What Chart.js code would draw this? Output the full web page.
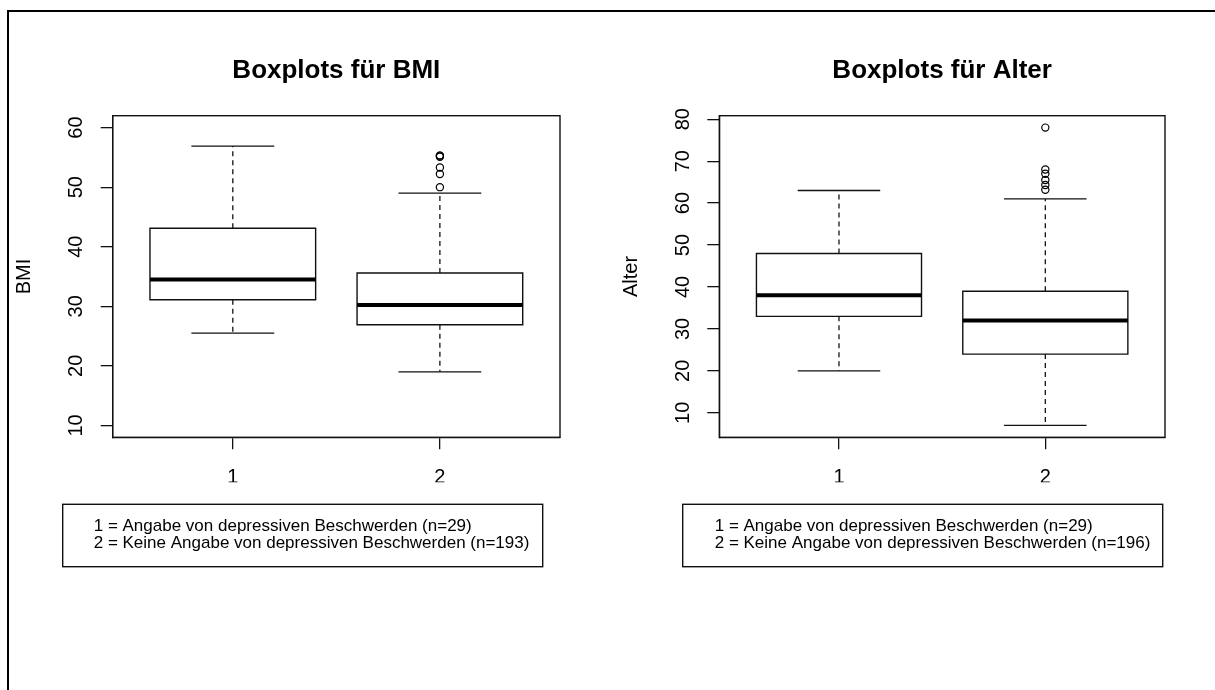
<!DOCTYPE html>
<html><head><meta charset="utf-8">
<script src="https://cdn.jsdelivr.net/npm/chart.js@4"></script>
<style>
html,body{margin:0;padding:0;background:#fff;width:1215px;height:690px;overflow:hidden;position:relative}
#frame{position:absolute;left:7px;top:10px;width:1300px;height:800px;border-left:2px solid #000;border-top:2px solid #000}
#c1{position:absolute;left:0;top:0}
#c2{position:absolute;left:607px;top:0}
</style></head><body>
<div id="frame"></div>
<canvas id="c1" width="607" height="690"></canvas>
<canvas id="c2" width="608" height="690"></canvas>
<script>
// ---- data ----
const groups = [1, 2];
const groupLabels = ["1", "2"];

const bmiTitle = "Boxplots für BMI";
const bmiAxisTitle = "BMI";
const bmiTicks = [10, 20, 30, 40, 50, 60];
const bmiMin = [25.5, 19.0];
const bmiQ1 = [31.1, 26.9];
const bmiMedian = [34.5, 30.2];
const bmiQ3 = [43.1, 35.6];
const bmiMax = [56.9, 49.0];
const bmiOutliers = [[], [55.3, 55.3, 55.1, 53.3, 52.2, 50.0]];
const bmiLegend = [
  "1 = Angabe von depressiven Beschwerden (n=29)",
  "2 = Keine Angabe von depressiven Beschwerden (n=193)"
];

const alterTitle = "Boxplots für Alter";
const alterAxisTitle = "Alter";
const alterTicks = [10, 20, 30, 40, 50, 60, 70, 80];
const alterMin = [20, 7];
const alterQ1 = [33, 24];
const alterMedian = [38, 32];
const alterQ3 = [48, 39];
const alterMax = [63, 61];
const alterOutliers = [[], [78, 68, 67, 65.5, 64.3, 63.2]];
const alterLegend = [
  "1 = Angabe von depressiven Beschwerden (n=29)",
  "2 = Keine Angabe von depressiven Beschwerden (n=196)"
];

// ---- styling / helpers ----
const FONT = "'Liberation Sans', Arial, sans-serif";
const LINE = '#111';

function boxDatasets(mins, q1s, meds, q3s, maxs, outs) {
  const HW = 0.4, CW = 0.2;
  const box = [], med = [], whisk = [], caps = [], pts = [];
  groups.forEach((g, i) => {
    box.push({x:g-HW,y:q1s[i]},{x:g+HW,y:q1s[i]},{x:g+HW,y:q3s[i]},{x:g-HW,y:q3s[i]},{x:g-HW,y:q1s[i]},{x:g+HW,y:q1s[i]},{x:g,y:null});
    med.push({x:g-HW,y:meds[i]},{x:g+HW,y:meds[i]},{x:g,y:null});
    whisk.push({x:g,y:q3s[i]},{x:g,y:maxs[i]},{x:g,y:null},{x:g,y:q1s[i]},{x:g,y:mins[i]},{x:g,y:null});
    caps.push({x:g-CW,y:maxs[i]},{x:g+CW,y:maxs[i]},{x:g,y:null},{x:g-CW,y:mins[i]},{x:g+CW,y:mins[i]},{x:g,y:null});
    outs[i].forEach(v => pts.push({x:g,y:v}));
  });
  const base = {pointRadius:0, tension:0, spanGaps:false, fill:false, borderColor:LINE};
  return [
    Object.assign({label:'median', data:med, borderWidth:4, borderColor:'#000', borderCapStyle:'butt'}, {pointRadius:0,tension:0,spanGaps:false,fill:false}),
    Object.assign({label:'box', data:box, borderWidth:1.4}, base),
    Object.assign({label:'whisker', data:whisk, borderWidth:1.3, borderDash:[5,4]}, base),
    Object.assign({label:'caps', data:caps, borderWidth:1.3}, base),
    {label:'outliers', data:pts, showLine:false, pointRadius:3.6, pointHoverRadius:3.6, pointStyle:'circle',
     pointBackgroundColor:'rgba(255,255,255,0)', pointBorderColor:'#000', pointBorderWidth:1.2}
  ];
}

const framePlugin = {
  id: 'rframe',
  afterDraw(chart, args, opts) {
    const {ctx, chartArea: a} = chart;
    ctx.save();
    ctx.strokeStyle = LINE; ctx.lineWidth = 1.4;
    ctx.strokeRect(a.left, a.top, a.right - a.left, a.bottom - a.top);
    const L = opts.box;
    ctx.strokeRect(L.x, L.y, L.w, L.h);
    ctx.fillStyle = '#000';
    ctx.font = '17px ' + FONT;
    ctx.textBaseline = 'middle';
    ctx.textAlign = 'left';
    opts.lines.forEach((t, i) => ctx.fillText(t, L.x + L.tx, L.y + L.ty + i * L.gap));
    ctx.restore();
  }
};

function makeChart(id, o) {
  const yPad = (o.yr[1] - o.yr[0]) * 0.04;
  const tickFont = {family: FONT, size: 20};
  const gridOpt = {drawOnChartArea:false, drawTicks:true, tickLength:12, color:LINE, lineWidth:1.3};
  return new Chart(document.getElementById(id), {
    type: 'line',
    data: {datasets: boxDatasets(o.mins, o.q1, o.med, o.q3, o.maxs, o.outs)},
    options: {
      responsive:false, animation:false, devicePixelRatio:1,
      events: [],
      layout: {padding: {left:0, right:o.padRight, top:0, bottom:690 - 437.3 - 45}},
      plugins: {
        legend:{display:false}, tooltip:{enabled:false},
        title:{display:true, fullSize:false, text:o.title, color:'#000', font:{family:FONT, size:26, weight:'bold'}, padding:{top:55, bottom:29.5}},
        rframe: {box:o.legendBox, lines:o.legend}
      },
      scales: {
        x: {type:'linear', min:0.42, max:2.58,
            afterBuildTicks: s => { s.ticks = groups.map(v => ({value:v})); },
            afterFit: s => { s.height = 45; },
            ticks: {callback: v => groupLabels[groups.indexOf(v)], font:tickFont, color:'#000', padding:16, maxRotation:0, autoSkip:false},
            grid: gridOpt, border:{display:true, color:LINE, width:1.3}},
        y: {type:'linear', min:o.yr[0] - yPad, max:o.yr[1] + yPad,
            afterBuildTicks: s => { s.ticks = o.ticks.map(v => ({value:v})); },
            afterFit: s => { s.width = o.axisW; },
            ticks: {callback: v => String(v), font:tickFont, color:'#000', padding:12.6, minRotation:90, maxRotation:90, crossAlign:'center', autoSkip:false},
            grid: gridOpt, border:{display:true, color:LINE, width:1.3},
            title: {display:true, text:o.yTitle, color:'#000', font:{family:FONT, size:20}, padding:{top:12, bottom:0}}}
      }
    },
    plugins: [framePlugin]
  });
}

makeChart('c1', {
  title: bmiTitle, yTitle: bmiAxisTitle, ticks: bmiTicks, yr: [10, 60],
  mins: bmiMin, q1: bmiQ1, med: bmiMedian, q3: bmiQ3, maxs: bmiMax, outs: bmiOutliers,
  legend: bmiLegend, axisW: 112.7, padRight: 47,
  legendBox: {x:62.7, y:504.3, w:480, h:62.4, tx:31, ty:22, gap:17}
});
makeChart('c2', {
  title: alterTitle, yTitle: alterAxisTitle, ticks: alterTicks, yr: [7, 78],
  mins: alterMin, q1: alterQ1, med: alterMedian, q3: alterQ3, maxs: alterMax, outs: alterOutliers,
  legend: alterLegend, axisW: 112.3, padRight: 50,
  legendBox: {x:75.7, y:504.3, w:480, h:62.4, tx:32, ty:22, gap:17}
});
</script>
</body></html>
